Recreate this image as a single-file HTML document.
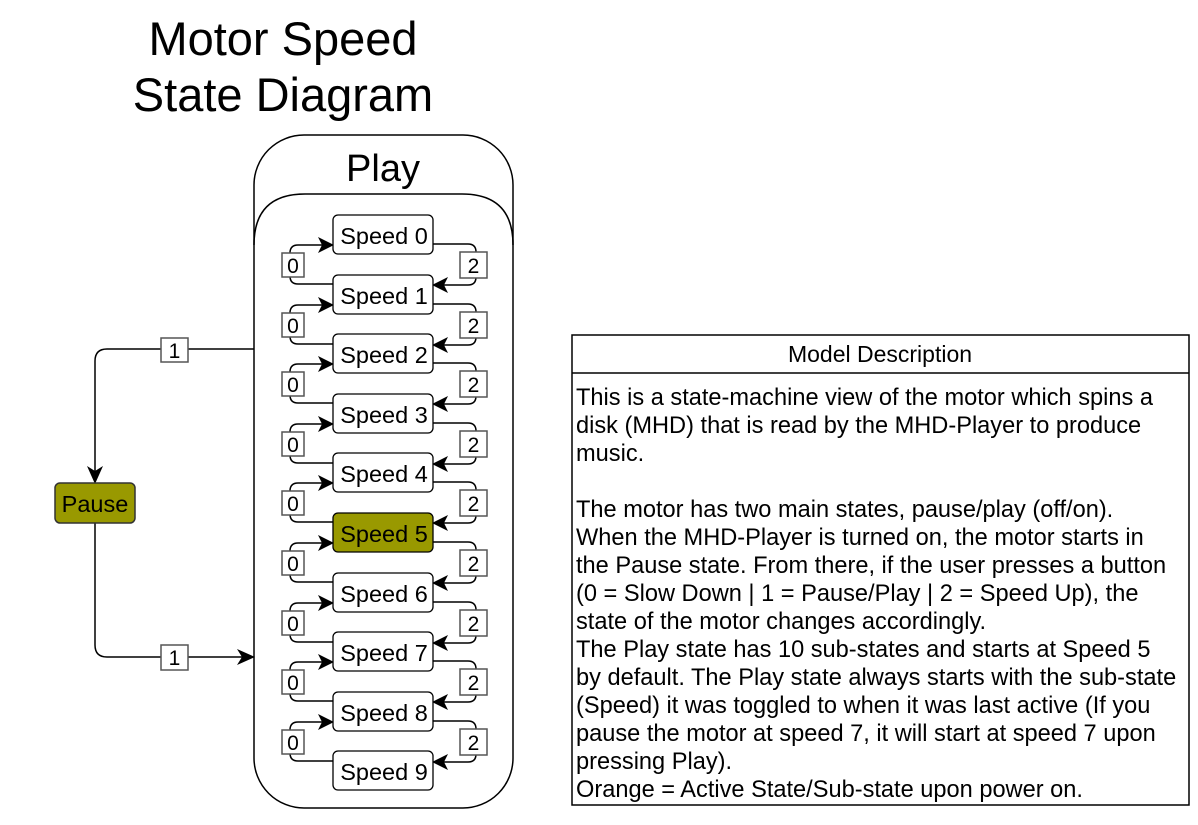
<!DOCTYPE html>
<html><head><meta charset="utf-8"><style>
html,body{margin:0;padding:0;background:#fff;}
svg{display:block;font-family:"Liberation Sans",Arial,sans-serif;}
</style></head><body>
<svg width="1198" height="825" viewBox="0 0 1198 825" xmlns="http://www.w3.org/2000/svg">
<defs>
<g id="pair">
  <path d="M333,69 L298,69 Q290,69 290,61 L290,38 Q290,30 298,30 L323,30" fill="none" stroke="#000" stroke-width="1.5"/>
  <polygon points="334,30 318,22 322,30 318,38" fill="#000"/>
  <rect x="282" y="38" width="22" height="24" fill="#fff" stroke="#555" stroke-width="1.5"/>
  <text x="293" y="58" font-size="21" text-anchor="middle">0</text>
  <path d="M433,29 L468,29 Q476,29 476,37 L476,62 Q476,70 468,70 L443,70" fill="none" stroke="#000" stroke-width="1.5"/>
  <polygon points="432,70 448,62 444,70 448,78" fill="#000"/>
  <rect x="460" y="37" width="27" height="26" fill="#fff" stroke="#555" stroke-width="1.5"/>
  <text x="473.5" y="58" font-size="21" text-anchor="middle">2</text>
</g>
</defs>
<text x="283" y="55" font-size="47" text-anchor="middle">Motor Speed</text>
<text x="283" y="111" font-size="47" text-anchor="middle">State Diagram</text>
<rect x="254" y="135" width="259" height="673" rx="50" fill="#fff" stroke="#000" stroke-width="1.5"/>
<path d="M254,245 Q254,194 305,194 L462,194 Q513,194 513,245" fill="none" stroke="#000" stroke-width="1.5"/>
<text x="383" y="181" font-size="38" text-anchor="middle">Play</text>

<use href="#pair" transform="translate(0,215)"/>
<use href="#pair" transform="translate(0,275)"/>
<use href="#pair" transform="translate(0,334)"/>
<use href="#pair" transform="translate(0,394)"/>
<use href="#pair" transform="translate(0,453)"/>
<use href="#pair" transform="translate(0,513)"/>
<use href="#pair" transform="translate(0,573)"/>
<use href="#pair" transform="translate(0,632)"/>
<use href="#pair" transform="translate(0,692)"/>

<g stroke="#000" stroke-width="1.3">
<rect x="333" y="215" width="100" height="39" rx="5" fill="#fff"/>
<rect x="333" y="275" width="100" height="39" rx="5" fill="#fff"/>
<rect x="333" y="334" width="100" height="39" rx="5" fill="#fff"/>
<rect x="333" y="394" width="100" height="39" rx="5" fill="#fff"/>
<rect x="333" y="453" width="100" height="39" rx="5" fill="#fff"/>
<rect x="333" y="513" width="100" height="39" rx="5" fill="#999900"/>
<rect x="333" y="573" width="100" height="39" rx="5" fill="#fff"/>
<rect x="333" y="632" width="100" height="39" rx="5" fill="#fff"/>
<rect x="333" y="692" width="100" height="39" rx="5" fill="#fff"/>
<rect x="333" y="751" width="100" height="39" rx="5" fill="#fff"/>
</g>
<g font-size="23.5" text-anchor="middle">
<text x="384" y="244">Speed 0</text>
<text x="384" y="304">Speed 1</text>
<text x="384" y="363">Speed 2</text>
<text x="384" y="423">Speed 3</text>
<text x="384" y="482">Speed 4</text>
<text x="384" y="542">Speed 5</text>
<text x="384" y="602">Speed 6</text>
<text x="384" y="661">Speed 7</text>
<text x="384" y="721">Speed 8</text>
<text x="384" y="780">Speed 9</text>
</g>

<path d="M254,349 L107,349 Q95,349 95,361 L95,472" fill="none" stroke="#000" stroke-width="1.5"/>
<polygon points="95,484 87,466 95,471 103,466" fill="#000"/>
<path d="M95,523 L95,645 Q95,657 107,657 L243,657" fill="none" stroke="#000" stroke-width="1.5"/>
<polygon points="255,657 237,649 242,657 237,665" fill="#000"/>
<rect x="161" y="338" width="27" height="24" fill="#fff" stroke="#555" stroke-width="1.5"/>
<text x="174.5" y="358" font-size="21" text-anchor="middle">1</text>
<rect x="161" y="645" width="27" height="25" fill="#fff" stroke="#555" stroke-width="1.5"/>
<text x="174.5" y="665" font-size="21" text-anchor="middle">1</text>
<rect x="55" y="483" width="80" height="40" rx="5" fill="#999900" stroke="#333" stroke-width="1.5"/>
<text x="95" y="512" font-size="23.5" text-anchor="middle">Pause</text>

<rect x="572" y="335" width="617" height="470" fill="#fff" stroke="#000" stroke-width="1.5"/>
<line x1="572" y1="373" x2="1189" y2="373" stroke="#000" stroke-width="1.5"/>
<text x="880" y="362" font-size="23" text-anchor="middle">Model Description</text>
<g font-size="23.6">
<text x="576" y="405">This is a state-machine view of the motor which spins a</text>
<text x="576" y="433">disk (MHD) that is read by the MHD-Player to produce</text>
<text x="576" y="461">music.</text>
<text x="576" y="517">The motor has two main states, pause/play (off/on).</text>
<text x="576" y="545">When the MHD-Player is turned on, the motor starts in</text>
<text x="576" y="573">the Pause state. From there, if the user presses a button</text>
<text x="576" y="601">(0 = Slow Down | 1 = Pause/Play | 2 = Speed Up), the</text>
<text x="576" y="629">state of the motor changes accordingly.</text>
<text x="576" y="657">The Play state has 10 sub-states and starts at Speed 5</text>
<text x="576" y="685">by default. The Play state always starts with the sub-state</text>
<text x="576" y="713">(Speed) it was toggled to when it was last active (If you</text>
<text x="576" y="741">pause the motor at speed 7, it will start at speed 7 upon</text>
<text x="576" y="769">pressing Play).</text>
<text x="576" y="797">Orange = Active State/Sub-state upon power on.</text>
</g>
</svg>
</body></html>
